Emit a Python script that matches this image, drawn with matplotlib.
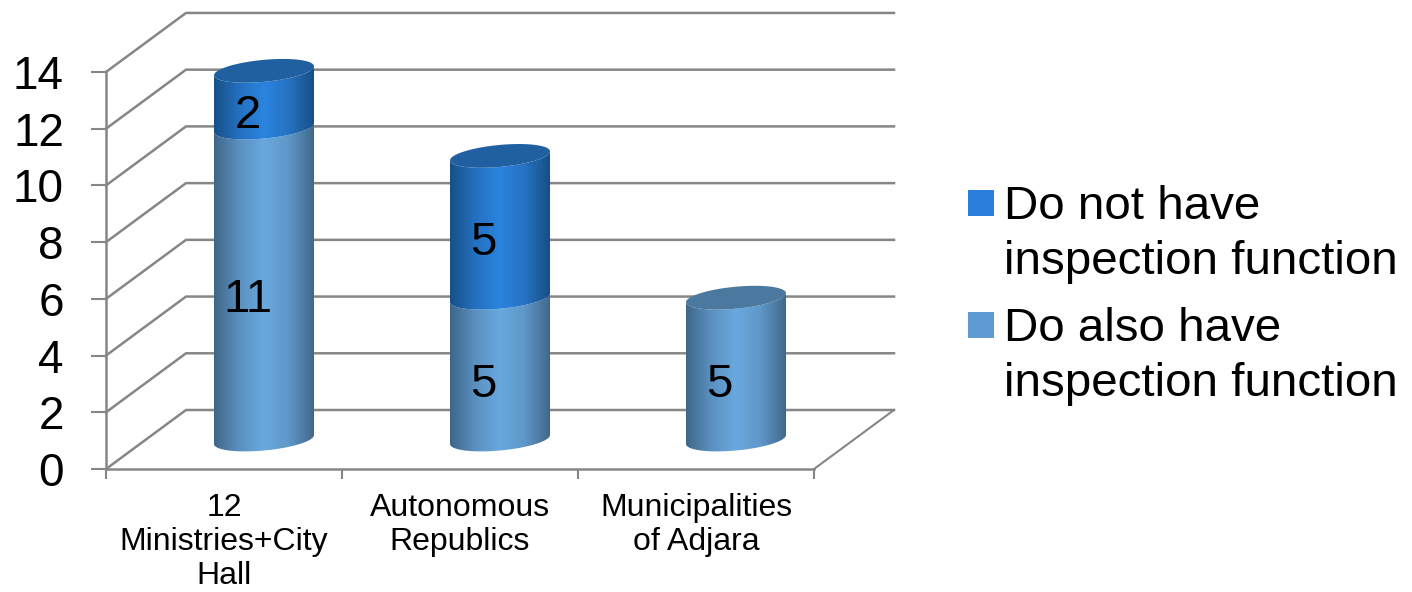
import matplotlib
matplotlib.use("Agg")
import matplotlib.pyplot as plt
import numpy as np
from matplotlib.colors import LinearSegmentedColormap
from matplotlib.patches import Polygon, Rectangle

plt.rcParams["font.family"] = ["Liberation Sans", "DejaVu Sans"]

categorias = ["12\nMinistries+City\nHall", "Autonomous\nRepublics", "Municipalities\nof Adjara"]
tiene_inspeccion = [11, 5, 5]
sin_inspeccion = [2, 5, 0]
nombres_serie = ["Do not have\ninspection function", "Do also have\ninspection function"]
ticks_y = [0, 2, 4, 6, 8, 10, 12, 14]

W, H = 1412, 592
px_cat = 236.0     # pixeles por categoria
px_val = 28.36     # pixeles por unidad
gris = "#868686"

# profundidad del piso, en unidades de datos
prof_x = 80 / px_cat
prof_y = 59 / px_val

fig = plt.figure(figsize=(W / 100, H / 100), dpi=100)
ax = fig.add_axes([106 / W, (H - 469) / H, 787 / W, 458 / H])
ax.set_facecolor("none")

# paredes: lineas de fondo y diagonales
xfin = len(categorias)
for v in ticks_y:
    ax.plot([0, prof_x, xfin + prof_x], [v, v + prof_y, v + prof_y],
            color=gris, lw=1.8, clip_on=False, zorder=1)
ax.plot([xfin, xfin + prof_x], [0, prof_y], color=gris, lw=1.5, clip_on=False, zorder=1)

ancho = 50 / px_cat
a = 11 / px_val
b = 4.5 / px_val

azul_claro = LinearSegmentedColormap.from_list("claro", ["#3F6688", "#5A90C0", "#69A8DE", "#5F97C8", "#41688A"])
azul_fuerte = LinearSegmentedColormap.from_list("fuerte", ["#175087", "#2470BF", "#2B84DF", "#2672C2", "#174F85"])
gradiente = np.linspace(0, 1, 256).reshape(1, -1)


def elipse(cx, cy, t):
    return np.column_stack([cx + ancho * np.cos(t), cy + a * np.sin(t) + b * np.cos(t)])


def segmento(cx, y0, y1, cmap, z):
    abajo = elipse(cx, y0, np.linspace(np.pi, 2 * np.pi, 60))
    arriba = elipse(cx, y1, np.linspace(2 * np.pi, np.pi, 60))
    forma = Polygon(np.vstack([abajo, arriba]), closed=True, transform=ax.transData,
                    facecolor="none", edgecolor="none")
    ax.add_patch(forma)
    im = ax.imshow(gradiente, cmap=cmap, aspect="auto", zorder=z,
                   extent=[cx - ancho, cx + ancho, y0 - 1, y1 + 1])
    im.set_clip_path(forma)


for i in range(len(categorias)):
    cx = i + 0.5 + prof_x / 2
    cy = prof_y / 2
    v1 = tiene_inspeccion[i]
    v2 = sin_inspeccion[i]
    segmento(cx, cy, cy + v1, azul_claro, 3)
    tapa = "#4A789F"
    if v2 > 0:
        segmento(cx, cy + v1, cy + v1 + v2, azul_fuerte, 4)
        tapa = "#2060A0"
    ax.add_patch(Polygon(elipse(cx, cy + v1 + v2, np.linspace(0, 2 * np.pi, 120)),
                         closed=True, facecolor=tapa, edgecolor="none", zorder=5))

    # etiquetas de valor
    ax.text(i + 0.6, v1 / 2 + 0.46, str(v1), ha="center", va="center", fontsize=34, zorder=6)
    if v2 > 0:
        ax.text(i + 0.6, v1 + v2 / 2 + 0.46, str(v2), ha="center", va="center", fontsize=34, zorder=6)

ax.set_xlim(0, 787 / px_cat)
ax.set_ylim(0, 458 / px_val)

ax.spines["top"].set_visible(False)
ax.spines["right"].set_visible(False)
ax.spines["left"].set_bounds(0, 14)
ax.spines["bottom"].set_bounds(0, xfin)
for lado in ["left", "bottom"]:
    ax.spines[lado].set_color(gris)
    ax.spines[lado].set_linewidth(1.8)

ax.set_yticks(ticks_y)
ax.tick_params(axis="y", length=10.8, width=1.5, color=gris, labelsize=33, pad=19.5)
ax.set_xticks(range(xfin + 1))
ax.set_xticklabels([])
ax.tick_params(axis="x", which="major", length=7.2, width=1.5, color=gris)
ax.set_xticks(np.arange(xfin) + 0.5, minor=True)
ax.set_xticklabels(categorias, minor=True, fontsize=23, linespacing=1.18)
ax.tick_params(axis="x", which="minor", length=0, pad=17)

# leyenda
colores = ["#2A7FDB", "#5F9BD3"]
for nombre, color, y in zip(nombres_serie, colores, [190, 312]):
    fig.add_artist(Rectangle((968 / W, 1 - (y + 26) / H), 26 / W, 26 / H,
                             transform=fig.transFigure, facecolor=color, edgecolor="none"))
    fig.text(1004 / W, 1 - (y - 5) / H, nombre, fontsize=34.2, va="top", ha="left", linespacing=1.31)

fig.savefig("out.png", dpi=100)
